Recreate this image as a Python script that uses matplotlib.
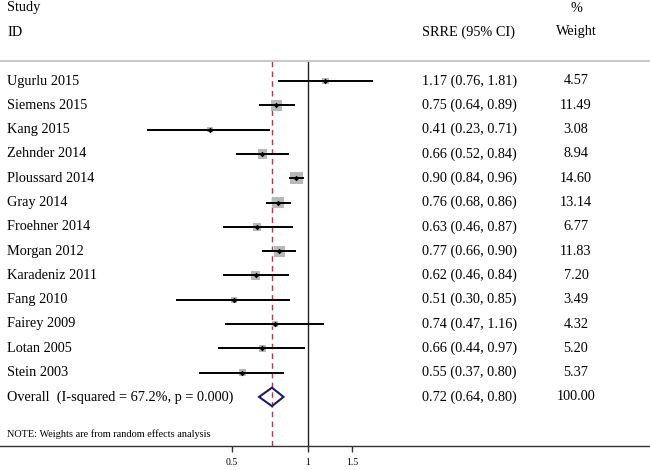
import numpy as np
import matplotlib
matplotlib.use("Agg")
import matplotlib.pyplot as plt
from matplotlib.patches import Polygon
from matplotlib.ticker import FixedLocator, FixedFormatter, NullLocator

studies = ["Ugurlu 2015", "Siemens 2015", "Kang 2015", "Zehnder 2014", "Ploussard 2014",
           "Gray 2014", "Froehner 2014", "Morgan 2012", "Karadeniz 2011", "Fang 2010",
           "Fairey 2009", "Lotan 2005", "Stein 2003"]
est = [1.17, 0.75, 0.41, 0.66, 0.90, 0.76, 0.63, 0.77, 0.62, 0.51, 0.74, 0.66, 0.55]
lo = [0.76, 0.64, 0.23, 0.52, 0.84, 0.68, 0.46, 0.66, 0.46, 0.30, 0.47, 0.44, 0.37]
hi = [1.81, 0.89, 0.71, 0.84, 0.96, 0.86, 0.87, 0.90, 0.84, 0.85, 1.16, 0.97, 0.80]
weights = [4.57, 11.49, 3.08, 8.94, 14.60, 13.14, 6.77, 11.83, 7.20, 3.49, 4.32, 5.20, 5.37]
overall_label = "Overall  (I-squared = 67.2%, p = 0.000)"
overall = (0.72, 0.64, 0.80, 100.00)
note = "NOTE: Weights are from random effects analysis"
xticks = [0.5, 1, 1.5]
xtick_labels = ["0.5", "1", "1.5"]

W, H = 650, 470
fig = plt.figure(figsize=(6.5, 4.7), dpi=100)
plt.rcParams['font.family'] = ['Liberation Serif', 'DejaVu Serif']

top_px, bot_px = 61, 446
ax = fig.add_axes([0, 1 - bot_px / H, 1, (bot_px - top_px) / H])
ax.set_xscale('log')
# x pixel = 308 + 109.7*ln(v)
ax.set_xlim(np.exp(-308 / 109.7), np.exp((W - 308) / 109.7))
row0, step = 81, 24.3
ax.set_ylim((bot_px - row0) / step, (top_px - row0) / step)

for s in ['left', 'right']:
    ax.spines[s].set_visible(False)
ax.spines['top'].set_color('#c8c8c8')
ax.spines['top'].set_linewidth(1.5)
ax.spines['bottom'].set_color('#333333')
ax.spines['bottom'].set_linewidth(1.0)
ax.yaxis.set_major_locator(NullLocator())
ax.xaxis.set_minor_locator(NullLocator())
ax.xaxis.set_major_locator(FixedLocator(xticks))
ax.xaxis.set_major_formatter(FixedFormatter(xtick_labels))
ax.tick_params(axis='x', direction='out', length=4.5, width=1.0, color='#333333',
               labelsize=7, pad=4)

ax.axvline(1, color='#222222', lw=1.0, zorder=1)
ax.axvline(overall[0], color='#a5404f', lw=1.0, ls=(0, (4, 3)), zorder=1)

y = np.arange(len(studies))
sizes = [5.3 * w for w in weights]
ax.scatter(est, y, marker='s', s=sizes, color='#b8b8b8', zorder=2, linewidths=0)
ax.hlines(y, lo, hi, color='black', lw=1.4, zorder=3)
ax.scatter(est, y, marker='D', s=8, color='black', zorder=4, linewidths=0)

yo = len(studies)
dh = 0.38
diamond = Polygon([[overall[1], yo], [overall[0], yo - dh], [overall[2], yo], [overall[0], yo + dh]],
                  closed=True, facecolor='none', edgecolor='#1c1c66', lw=1.5, zorder=5)
ax.add_patch(diamond)

tr = ax.get_yaxis_transform()
fs = 10.3
for i, name in enumerate(studies):
    ax.text(7 / W, i, name, transform=tr, fontsize=fs, va='center', ha='left')
    ax.text(422 / W, i, f"{est[i]:.2f} ({lo[i]:.2f}, {hi[i]:.2f})", transform=tr,
            fontsize=fs, va='center', ha='left')
    ax.text(576 / W, i, f"{weights[i]:.2f}", transform=tr, fontsize=fs, va='center', ha='center')
ax.text(7 / W, yo, overall_label, transform=tr, fontsize=fs, va='center', ha='left')
ax.text(422 / W, yo, f"{overall[0]:.2f} ({overall[1]:.2f}, {overall[2]:.2f})", transform=tr,
        fontsize=fs, va='center', ha='left')
ax.text(576 / W, yo, f"{overall[3]:.2f}", transform=tr, fontsize=fs, va='center', ha='center')
ax.text(7 / W, (434 - row0) / step, note, transform=tr, fontsize=7.4, va='center', ha='left')

def ftext(xp, yp, s, ha='left'):
    fig.text(xp / W, 1 - yp / H, s, fontsize=fs, ha=ha, va='center')

ftext(7, 8, "Study")
ftext(7, 32, "ID")
ftext(422, 32, "SRRE (95% CI)")
ftext(576, 8, "%", ha='center')
ftext(576, 32, "Weight", ha='center')

fig.savefig("out.png", dpi=100)
